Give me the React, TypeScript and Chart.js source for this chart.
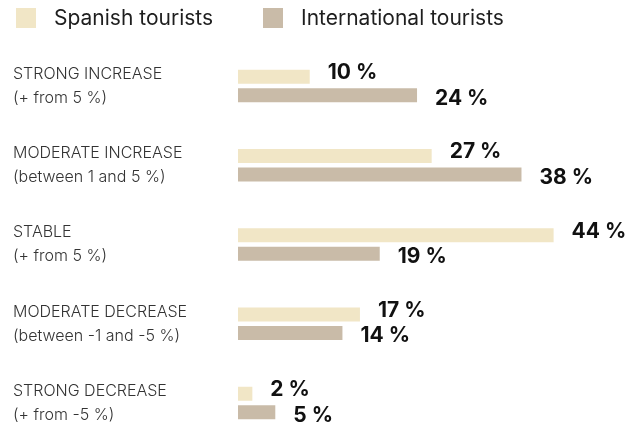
import React, { useEffect, useRef } from "react";
import { Chart, registerables } from "chart.js";

Chart.register(...registerables);

const categoryTitles = [
  "STRONG INCREASE",
  "MODERATE INCREASE",
  "STABLE",
  "MODERATE DECREASE",
  "STRONG DECREASE",
];
const categoryNotes = [
  "(+ from 5 %)",
  "(between 1 and 5 %)",
  "(+ from 5 %)",
  "(between -1 and -5 %)",
  "(+ from -5 %)",
];
const seriesNames = ["Spanish tourists", "International tourists"];
const spanishValues = [10, 27, 44, 17, 2];
const internationalValues = [24, 38, 19, 14, 5];

const SPANISH_COLOR = "#F1E6C6";
const INTL_COLOR = "#C9BBA8";
const FONT = "Inter, Roboto, 'DejaVu Sans', sans-serif";

const legendPlugin = {
  id: "customLegend",
  afterDraw(chart: any) {
    const ctx = chart.ctx;
    const colors = [SPANISH_COLOR, INTL_COLOR];
    const starts = [16, 263];
    ctx.save();
    ctx.font = `400 21px ${FONT}`;
    ctx.textBaseline = "middle";
    ctx.textAlign = "left";
    seriesNames.forEach((name, i) => {
      ctx.fillStyle = colors[i];
      ctx.fillRect(starts[i], 8, 20, 20);
      ctx.fillStyle = "#1e1e1e";
      ctx.fillText(name, starts[i] + 38, 18.5);
    });
    ctx.restore();
  },
};

const valueLabelPlugin = {
  id: "valueLabels",
  afterDatasetsDraw(chart: any) {
    const ctx = chart.ctx;
    ctx.save();
    ctx.font = `700 21px ${FONT}`;
    ctx.fillStyle = "#111111";
    ctx.textAlign = "left";
    ctx.textBaseline = "middle";
    chart.data.datasets.forEach((ds: any, di: number) => {
      const meta = chart.getDatasetMeta(di);
      meta.data.forEach((el: any, i: number) => {
        const dy = di === 0 ? -4 : 3;
        ctx.fillText(`${ds.data[i]} %`, el.x + 18, el.y + dy);
      });
    });
    ctx.restore();
  },
};

export default function App() {
  const canvasRef = useRef<HTMLCanvasElement | null>(null);

  useEffect(() => {
    if (!canvasRef.current) return;
    const chart = new Chart(canvasRef.current, {
      type: "bar",
      data: {
        labels: categoryTitles.map((t, i) => [t, categoryNotes[i]]),
        datasets: [
          {
            label: seriesNames[0],
            data: spanishValues,
            backgroundColor: SPANISH_COLOR,
            xAxisID: "xS",
            categoryPercentage: 0.469,
            barPercentage: 0.753,
          },
          {
            label: seriesNames[1],
            data: internationalValues,
            backgroundColor: INTL_COLOR,
            xAxisID: "x",
            categoryPercentage: 0.469,
            barPercentage: 0.753,
          },
        ],
      },
      options: {
        indexAxis: "y",
        responsive: false,
        devicePixelRatio: 1,
        animation: false,
        layout: { padding: { left: 13, top: 46.4, right: 16, bottom: 2.4 } },
        plugins: {
          legend: { display: false },
          tooltip: { enabled: false },
        },
        scales: {
          x: { type: "linear", min: 0, max: 50, display: false },
          xS: { type: "linear", min: 0, max: 52, display: false, position: "bottom" },
          y: {
            type: "category",
            grid: { display: false },
            border: { display: false },
            ticks: {
              crossAlign: "far",
              padding: 0,
              color: "#333333",
              font: { family: FONT, size: 16, weight: "300", lineHeight: 1.5 },
            },
            afterFit(scale: any) {
              scale.width = 225;
              scale.paddingTop = 0;
              scale.paddingBottom = 0;
            },
          },
        },
      } as any,
      plugins: [legendPlugin, valueLabelPlugin],
    });
    return () => chart.destroy();
  }, []);

  return (
    <div
      style={{
        position: "fixed",
        left: 0,
        top: 0,
        width: 627,
        height: 436,
        overflow: "hidden",
        background: "#ffffff",
      }}
    >
      <canvas ref={canvasRef} width={627} height={445} style={{ display: "block" }} />
    </div>
  );
}
